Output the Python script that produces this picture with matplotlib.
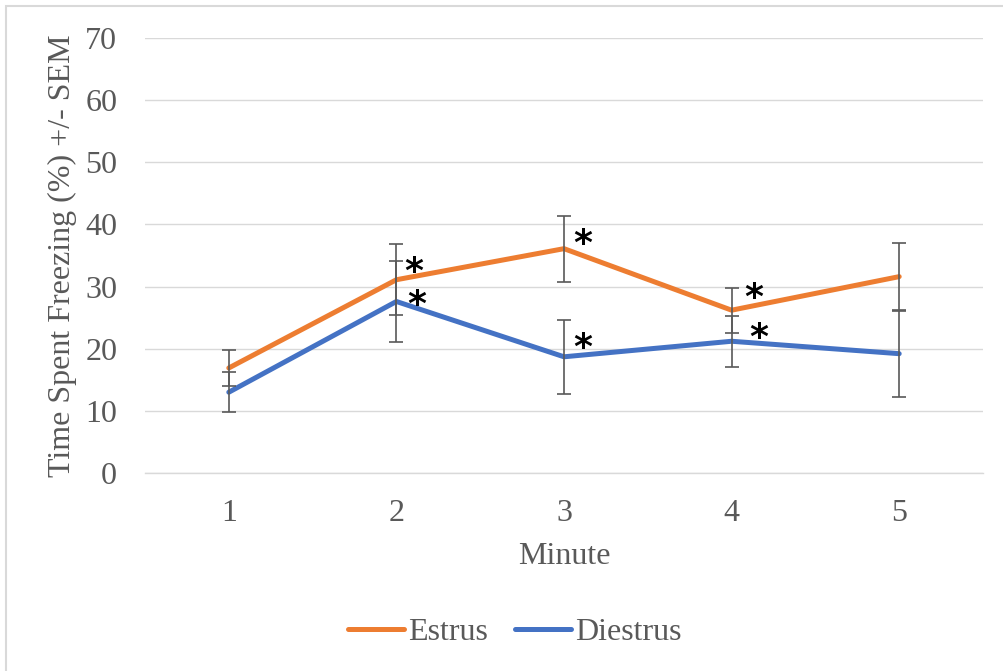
import matplotlib
matplotlib.use("Agg")
import matplotlib.pyplot as plt
from matplotlib.patches import Rectangle

# values
minutes = [1, 2, 3, 4, 5]
estrus = [16.9, 31.1, 36.1, 26.2, 31.6]
estrus_sem = [2.95, 5.75, 5.3, 3.6, 5.4]
diestrus = [13.0, 27.6, 18.7, 21.2, 19.2]
diestrus_sem = [3.2, 6.5, 5.95, 4.1, 6.9]
significant = [False, True, True, True, False]

orange = "#ED7D31"
blue = "#4472C4"
grey_text = "#595959"

# where each star sits next to its point (pixels, right / up)
estrus_star_offsets = [(0, 0), (17, 8), (19, 5), (22, 12), (0, 0)]
diestrus_star_offsets = [(0, 0), (20, -4), (19, 9), (27, 3), (0, 0)]

plt.rcParams["font.family"] = ["Liberation Serif", "DejaVu Serif"]

fig = plt.figure(figsize=(10.04, 6.71), dpi=100)
ax = fig.add_axes([145 / 1004, 1 - 473 / 671, (983 - 145) / 1004, (473 - 38) / 671])

ax.plot(minutes, estrus, color=orange, lw=3.6, solid_capstyle="round", label="Estrus", zorder=3)
ax.plot(minutes, diestrus, color=blue, lw=3.6, solid_capstyle="round", label="Diestrus", zorder=3)
for vals, errs in [(estrus, estrus_sem), (diestrus, diestrus_sem)]:
    ax.errorbar(minutes, vals, yerr=errs, fmt="none", ecolor=grey_text,
                elinewidth=1.2, capsize=5, capthick=1.2, zorder=4)

# significance stars beside the points
for vals, offs in [(estrus, estrus_star_offsets), (diestrus, diestrus_star_offsets)]:
    for m, v, s, o in zip(minutes, vals, significant, offs):
        if s:
            ax.annotate("*", (m, v), xytext=o, textcoords="offset pixels",
                        ha="center", va="center", fontsize=26, fontweight="bold",
                        family="DejaVu Sans", color="black", zorder=5)

ax.set_xlim(0.5, 5.5)
ax.set_ylim(0, 70)
ax.set_xticks(minutes)
ax.set_yticks(range(0, 71, 10))
ax.grid(axis="y", color="#D9D9D9", lw=1.0)
ax.set_axisbelow(True)
for side in ["left", "right", "top"]:
    ax.spines[side].set_visible(False)
ax.spines["bottom"].set_color("#D9D9D9")
ax.spines["bottom"].set_linewidth(1.0)
ax.tick_params(axis="both", length=0, labelsize=23, labelcolor=grey_text)
ax.tick_params(axis="x", pad=19)
ax.tick_params(axis="y", pad=20)

ax.set_xlabel("Minute", fontsize=23, color=grey_text, labelpad=10)
ax.yaxis.set_label_coords(-68 / 838, 0.405)
ax.set_ylabel("Time Spent Freezing (%) +/- SEM", fontsize=23, color=grey_text)

fig.legend(loc="center", bbox_to_anchor=(515 / 1004, 1 - 632 / 671), ncol=2,
           frameon=False, fontsize=23, handlelength=1.75, handletextpad=0.12,
           columnspacing=0.85, labelcolor=grey_text)

# light chart frame
fig.patches.append(Rectangle((6 / 1004, -0.1), 1.2, 1.1 - 6 / 671, transform=fig.transFigure,
                             fill=False, edgecolor="#D9D9D9", lw=1.5))

fig.savefig("out.png", dpi=100)
